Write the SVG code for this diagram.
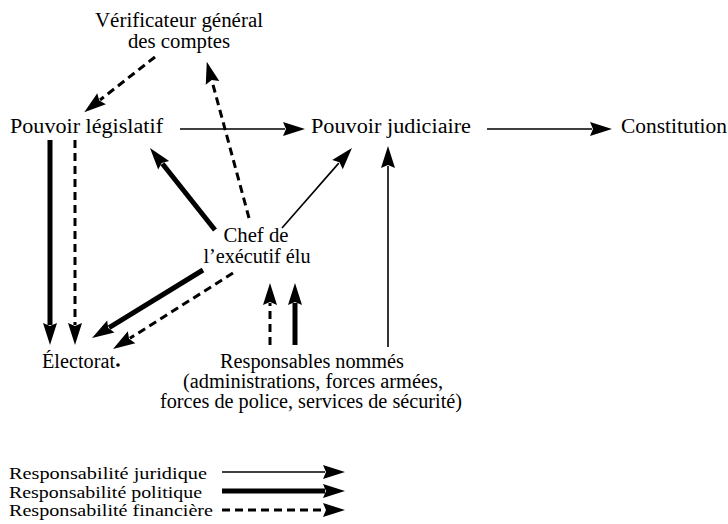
<svg xmlns="http://www.w3.org/2000/svg" width="728" height="524" viewBox="0 0 728 524">
<style>
text{font-family:"Liberation Serif","Times New Roman",serif;font-size:20.5px;fill:#000}
.c{text-anchor:middle}
.lg{font-size:17.5px}
.thin{stroke:#000;stroke-width:1.6;fill:none;marker-end:url(#ah)}
.thick{stroke:#000;stroke-width:5;fill:none;marker-end:url(#ah)}
.dash{stroke:#000;stroke-width:3;stroke-dasharray:8 5;fill:none;marker-end:url(#ah)}
</style>
<defs>
<marker id="ah" markerUnits="userSpaceOnUse" markerWidth="24" markerHeight="14" refX="2" refY="7" orient="auto" overflow="visible">
<path d="M0,0 L22,7 L0,14 L3,7 Z" fill="#000"/>
</marker>
</defs>
<rect width="728" height="524" fill="#fff"/>
<g id="verificateur"><text class="c" x="179" y="27" textLength="168" lengthAdjust="spacingAndGlyphs">Vérificateur général</text><text class="c" x="179" y="48" textLength="102" lengthAdjust="spacingAndGlyphs">des comptes</text></g>
<g id="legislatif"><text x="10" y="133" textLength="153" lengthAdjust="spacingAndGlyphs">Pouvoir  législatif</text></g>
<g id="judiciaire"><text x="311" y="133" textLength="160" lengthAdjust="spacingAndGlyphs">Pouvoir  judiciaire</text></g>
<g id="constitution"><text x="621" y="133" textLength="106" lengthAdjust="spacingAndGlyphs">Constitution</text></g>
<g id="chef"><text class="c" x="256" y="242" textLength="65" lengthAdjust="spacingAndGlyphs">Chef de</text><text class="c" x="257" y="263" textLength="107" lengthAdjust="spacingAndGlyphs">l’exécutif élu</text></g>
<g id="electorat"><text x="42" y="368" textLength="73" lengthAdjust="spacingAndGlyphs">Électorat</text><circle cx="118" cy="365" r="1.8" fill="#000"/></g>
<g id="responsables"><text class="c" x="312" y="368" textLength="184" lengthAdjust="spacingAndGlyphs">Responsables nommés</text><text class="c" x="313" y="388" textLength="260" lengthAdjust="spacingAndGlyphs">(administrations, forces armées,</text><text class="c" x="311" y="408" textLength="302" lengthAdjust="spacingAndGlyphs">forces de police, services de sécurité)</text></g>
<g id="connectors">
<path class="dash" d="M155,57 L100,100"/>
<path class="dash" d="M249,218 L212,81"/>
<path class="thin" d="M180,129 L285,129"/>
<path class="thin" d="M487,129 L592,129"/>
<path class="thick" d="M215,230 L162.4,163.7"/>
<path class="thin" d="M282,228 L338.8,163.1"/>
<path class="thick" d="M50,140 L50,325"/>
<path class="dash" d="M75,140 L75,325"/>
<path class="thick" d="M203,270 L109.1,327.6"/>
<path class="dash" d="M233,273 L129.9,338.3"/>
<path class="dash" d="M270,345 L270,303"/>
<path class="thick" d="M295,345 L295,303"/>
<path class="thin" d="M388,347 L388,166"/>
</g>
<g id="legend">
<text class="lg" x="9" y="479" textLength="198" lengthAdjust="spacingAndGlyphs">Responsabilité juridique</text>
<text class="lg" x="9" y="497.5" textLength="193" lengthAdjust="spacingAndGlyphs">Responsabilité politique</text>
<text class="lg" x="9" y="516" textLength="204" lengthAdjust="spacingAndGlyphs">Responsabilité financière</text>
<path class="thin" d="M222,472 L325,472"/>
<path class="thick" d="M222,491 L325,491"/>
<path class="dash" d="M222,510 L325,510"/>
</g>
</svg>
